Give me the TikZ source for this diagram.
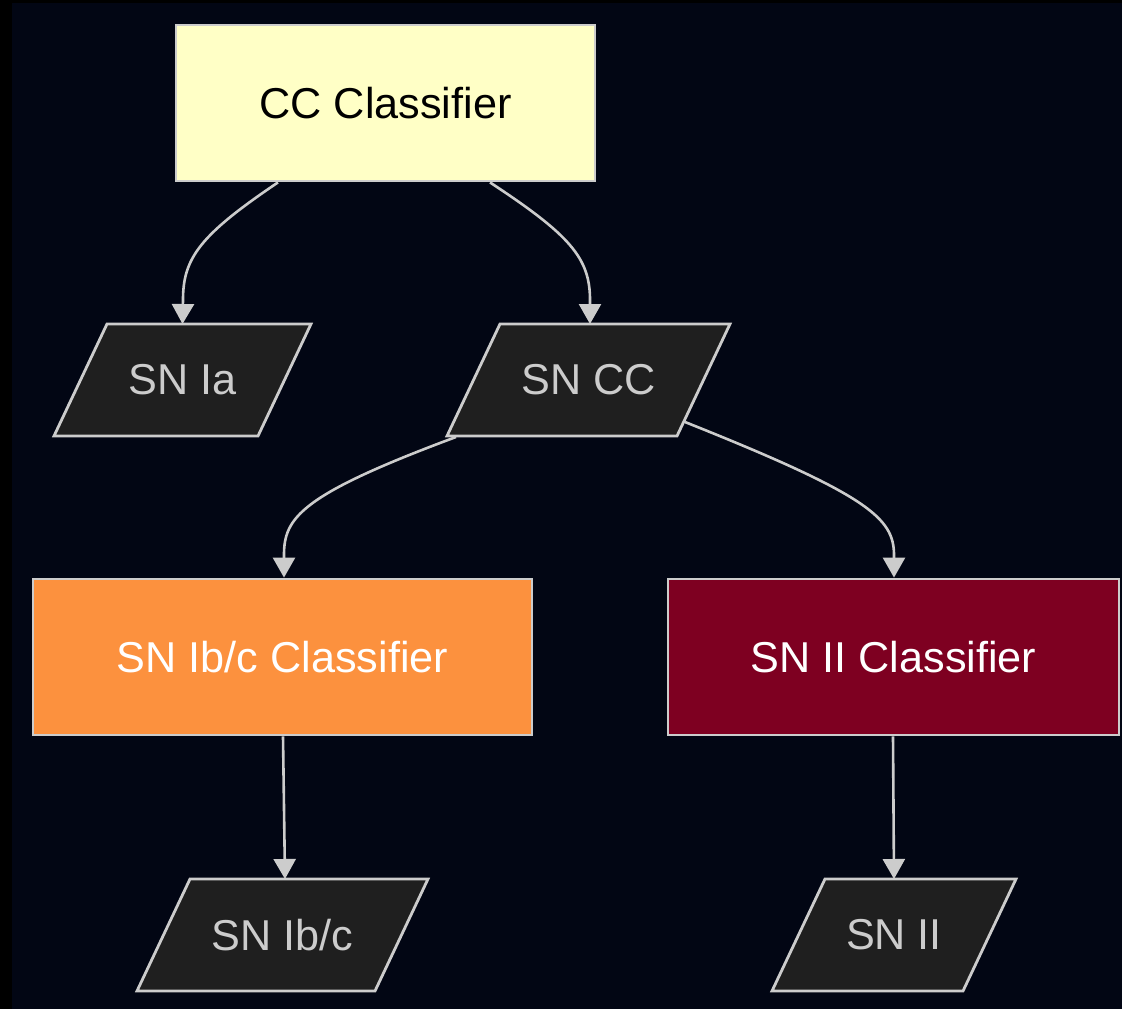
\documentclass[tikz,border=0pt]{standalone}
\usepackage{fontspec}
\setmainfont{Liberation Sans}
\usetikzlibrary{arrows.meta}
\definecolor{bgc}{HTML}{020614}
\definecolor{linec}{HTML}{CCCCCC}
\definecolor{pfill}{HTML}{1F1F1F}
\definecolor{ptextc}{HTML}{CCCCCC}
\definecolor{yellowc}{HTML}{FFFFC6}
\definecolor{orangec}{HTML}{FC913E}
\definecolor{redc}{HTML}{7E0021}
\begin{document}
\begin{tikzpicture}[x=1pt,y=-1pt,
  box/.style={draw=linec, line width=2.8pt, minimum height=156pt, inner sep=0pt,
    font=\fontsize{43.2}{50}\selectfont},
  pshape/.style={draw=linec, fill=pfill, line width=2.8pt, line join=miter},
  ptext/.style={text=ptextc, inner sep=0pt, font=\fontsize{43.2}{50}\selectfont},
  conn/.style={draw=linec, line width=2.6pt, -{Triangle[width=22pt,length=20pt,fill=linec]}}
]
\useasboundingbox (0,0) rectangle (1122,1009);
\fill[black] (0,0) rectangle (1122,1009);
\fill[bgc] (12,3) rectangle (1122,1009);

% rectangles
\node[box, fill=yellowc, text=black, minimum width=419pt] (cc) at (385.5,103) {CC Classifier};
\node[box, fill=orangec, text=white, minimum width=499pt] (ibc) at (282.5,657) {SN Ib/c Classifier};
\node[box, fill=redc, text=white, minimum width=451pt] (ii) at (893.5,657) {SN II Classifier};

% parallelograms
\draw[pshape] (107,324) -- (311,324) -- (258,436) -- (54,436) -- cycle;
\node[ptext] (ia) at (182.5,380) {SN Ia};
\draw[pshape] (500,324) -- (730,324) -- (677,436) -- (447,436) -- cycle;
\node[ptext] (sncc) at (588.5,380) {SN CC};
\draw[pshape] (190,879) -- (428,879) -- (375,991) -- (137,991) -- cycle;
\node[ptext] (snibc) at (282.5,935) {SN Ib/c};
\draw[pshape] (825,879) -- (1016,879) -- (963,991) -- (772,991) -- cycle;
\node[ptext] (snii) at (894,935) {SN II};

% connectors
\draw[conn] ([xshift=-107.5pt]cc.south) .. controls (200,235) and (183,258) .. (183,300) -- ([yshift=56pt]ia.center);
\draw[conn] ([xshift=104.5pt]cc.south) .. controls (570,235) and (590,258) .. (590,300) -- ([xshift=1.5pt,yshift=56pt]sncc.center);
\draw[conn] ([xshift=-132.5pt,yshift=-57pt]sncc.center) .. controls (300,495) and (284,518) .. (284,555) -- ([xshift=1.5pt]ibc.north);
\draw[conn] ([xshift=96.5pt,yshift=-42pt]sncc.center) .. controls (868,495) and (894,518) .. (894,555) -- ([xshift=0.5pt]ii.north);
\draw[conn] ([xshift=0.5pt]ibc.south) -- ([xshift=2.5pt,yshift=56pt]snibc.center);
\draw[conn] ([xshift=-0.5pt]ii.south) -- ([yshift=56pt]snii.center);
\end{tikzpicture}
\end{document}
